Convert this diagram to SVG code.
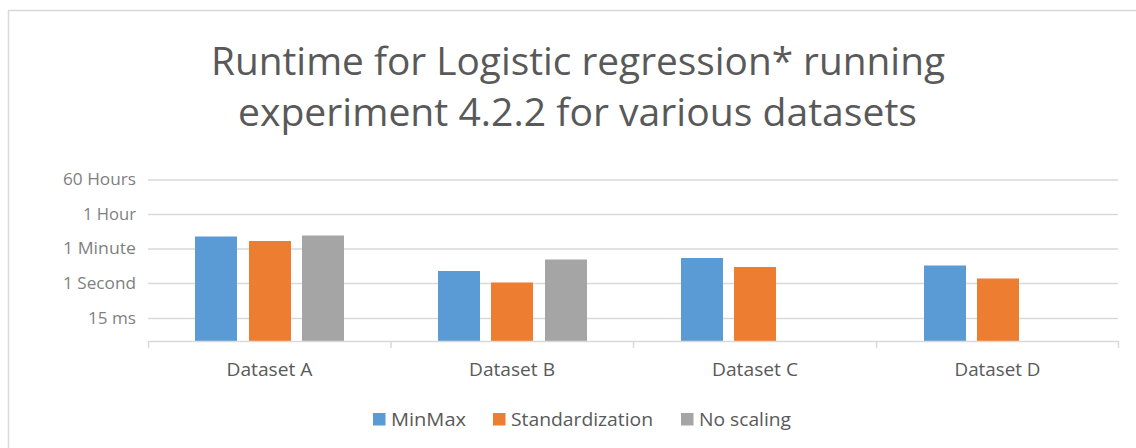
<svg xmlns="http://www.w3.org/2000/svg" width="1136" height="448" viewBox="0 0 1136 448">
<style>
text{font-family:"Open Sans","Liberation Sans",sans-serif;}
.title{font-size:38.5px;fill:#595959;text-anchor:middle;}
.ylab{font-size:15.5px;fill:#7f7f7f;text-anchor:end;}
.cat{font-size:17.5px;fill:#595959;text-anchor:middle;}
.leg{font-size:18.5px;fill:#595959;}
.grid{stroke:#d9d9d9;stroke-width:1.5;fill:none;}
.mm{fill:#5b9bd5;}
.st{fill:#ed7d31;}
.ns{fill:#a5a5a5;}
</style>
<rect x="0" y="0" width="1136" height="448" fill="#ffffff"/>
<rect id="frame" x="8.5" y="10.5" width="1140" height="450" fill="none" stroke="#d9d9d9" stroke-width="1.5"/>
<g id="title">
<text class="title" x="578" y="75" textLength="734" lengthAdjust="spacingAndGlyphs">Runtime for Logistic regression* running</text>
<text class="title" x="577.5" y="126" textLength="679" lengthAdjust="spacingAndGlyphs">experiment 4.2.2 for various datasets</text>
</g>
<g id="gridlines">
<line class="grid" x1="148" y1="180" x2="1118" y2="180"/>
<line class="grid" x1="148" y1="214.5" x2="1118" y2="214.5"/>
<line class="grid" x1="148" y1="249" x2="1118" y2="249"/>
<line class="grid" x1="148" y1="283.5" x2="1118" y2="283.5"/>
<line class="grid" x1="148" y1="318.5" x2="1118" y2="318.5"/>
</g>
<g id="y-axis-labels">
<text class="ylab" x="136" y="185" textLength="73" lengthAdjust="spacingAndGlyphs">60 Hours</text>
<text class="ylab" x="136" y="219.5" textLength="53" lengthAdjust="spacingAndGlyphs">1 Hour</text>
<text class="ylab" x="136" y="254" textLength="73" lengthAdjust="spacingAndGlyphs">1 Minute</text>
<text class="ylab" x="136" y="288.5" textLength="73" lengthAdjust="spacingAndGlyphs">1 Second</text>
<text class="ylab" x="136" y="323.5" textLength="48" lengthAdjust="spacingAndGlyphs">15 ms</text>
</g>
<g id="bars">
<rect class="mm" x="195" y="236.5" width="42" height="104.5"/>
<rect class="st" x="249" y="241" width="42" height="100"/>
<rect class="ns" x="302" y="235.5" width="42" height="105.5"/>
<rect class="mm" x="438" y="271" width="42" height="70"/>
<rect class="st" x="491" y="282.5" width="42" height="58.5"/>
<rect class="ns" x="545" y="259.5" width="42" height="81.5"/>
<rect class="mm" x="681" y="258" width="42" height="83"/>
<rect class="st" x="734" y="267" width="42" height="74"/>
<rect class="mm" x="924" y="265.5" width="42" height="75.5"/>
<rect class="st" x="977" y="278.5" width="42" height="62.5"/>
</g>
<g id="x-axis">
<line class="grid" x1="148" y1="341.5" x2="1118" y2="341.5"/>
<line class="grid" x1="148.5" y1="341" x2="148.5" y2="348"/>
<line class="grid" x1="391" y1="341" x2="391" y2="348"/>
<line class="grid" x1="633.5" y1="341" x2="633.5" y2="348"/>
<line class="grid" x1="876.5" y1="341" x2="876.5" y2="348"/>
<line class="grid" x1="1118.5" y1="341" x2="1118.5" y2="348"/>
</g>
<g id="categories">
<text class="cat" x="269.5" y="376" textLength="86" lengthAdjust="spacingAndGlyphs">Dataset A</text>
<text class="cat" x="512" y="376" textLength="86" lengthAdjust="spacingAndGlyphs">Dataset B</text>
<text class="cat" x="755" y="376" textLength="86" lengthAdjust="spacingAndGlyphs">Dataset C</text>
<text class="cat" x="997.5" y="376" textLength="86" lengthAdjust="spacingAndGlyphs">Dataset D</text>
</g>
<g id="legend">
<rect class="mm" x="373" y="413" width="12.5" height="12.5"/>
<text class="leg" x="391" y="426" textLength="75" lengthAdjust="spacingAndGlyphs">MinMax</text>
<rect class="st" x="493" y="413" width="12.5" height="12.5"/>
<text class="leg" x="511" y="426" textLength="142" lengthAdjust="spacingAndGlyphs">Standardization</text>
<rect class="ns" x="681" y="413" width="12.5" height="12.5"/>
<text class="leg" x="699" y="426" textLength="92" lengthAdjust="spacingAndGlyphs">No scaling</text>
</g>
</svg>
